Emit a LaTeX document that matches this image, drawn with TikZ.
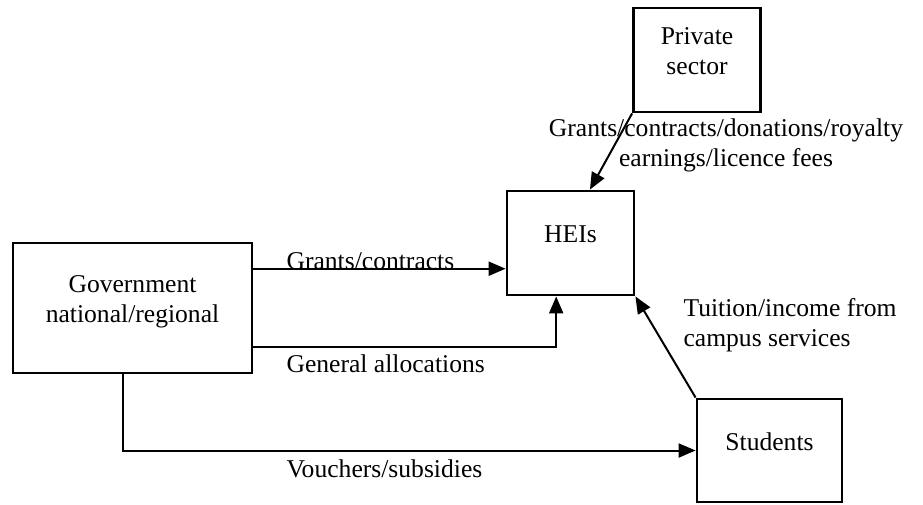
\documentclass[tikz,border=0pt]{standalone}
\usepackage{fontspec}
\setmainfont{Liberation Serif}
\usetikzlibrary{arrows.meta}

\begin{document}
\begin{tikzpicture}[x=1pt, y=-1pt, >={Triangle[length=17pt,width=14pt]},
    every node/.style={font=\fontsize{25.6}{30}\selectfont},
    block/.style={draw, line width=2.8pt, align=center, text depth=17pt},
    flow/.style={->, line width=2pt}]
\useasboundingbox (0,0) rectangle (923,504);

\node[block, minimum width=127pt, minimum height=104pt] (priv) at (697,60) {Private\\sector};
\node[block, minimum width=127pt, minimum height=104pt] (hei) at (570.5,243) {HEIs};
\node[block, minimum width=239pt, minimum height=130pt] (gov) at (132.5,308) {Government\\national/regional};
\node[block, minimum width=145pt, minimum height=103pt] (stud) at (769.5,450.5) {Students};

% labels
\node[align=center] (lpriv) at (726,145.5) {Grants/contracts/donations/royalty\\earnings/licence fees};
\node[anchor=west] (lgrant) at (283,261) {Grants/contracts};
\node[anchor=west] (lgen) at (283,364) {General allocations};
\node[anchor=west] (lvouch) at (283,469) {Vouchers/subsidies};
\node[anchor=west, align=left] (ltuit) at (680,325) {Tuition/income from\\campus services};

\path[flow] (priv.south west) edge (hei.70)
    (gov.18) edge (gov.18 -| hei.west)
    (stud.north west) edge (hei.south east);
\draw[flow] (gov.-18) -| (hei.255);
\draw[flow] (gov.262) |- (stud.west);
\end{tikzpicture}
\end{document}
